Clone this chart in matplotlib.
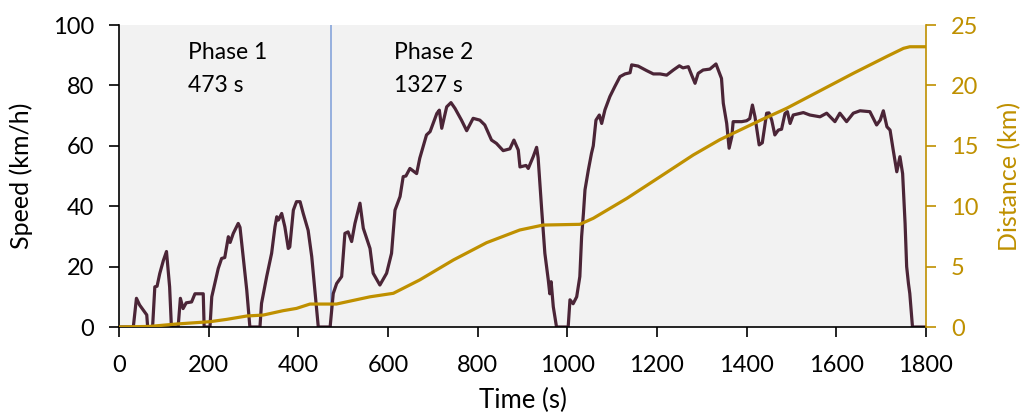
import matplotlib.pyplot as plt

plt.rcParams['font.family'] = ['Lato', 'DejaVu Sans']

# speed trace (time in s, speed in km/h)
time_s = [0, 32, 39, 46, 62, 64, 75, 80, 85, 91, 99, 106, 113, 117, 132, 137, 143, 150, 162, 169.5,
          188, 190, 203, 207, 214, 221.5, 229, 236, 244, 248, 255, 266, 270, 277, 285, 292, 314.5,
          318, 329.5, 340.5, 348, 352, 355.5, 363, 370, 377.7, 381, 389, 396, 404, 411, 422, 430,
          437, 444.6, 471, 478, 485.6, 496.7, 504, 511, 519, 526.4, 537.6, 545, 560, 567, 582, 597,
          608, 615.7, 627, 634, 640, 649, 664, 671, 686, 694, 709, 714.6, 720, 731, 740.6, 749.5,
          764, 775.6, 790, 805, 816, 831, 842, 857, 872, 881, 890.7, 894.5, 908, 913, 924, 931.6,
          935, 943, 950, 957.6, 961, 964, 968.8, 976, 1002, 1006, 1013, 1021, 1028, 1032, 1036,
          1039.5, 1047, 1054, 1058, 1064, 1071.5, 1076.7, 1084, 1095, 1106, 1117.6, 1128.7, 1140,
          1143.6, 1158, 1177, 1192, 1207, 1221.7, 1236.6, 1250, 1258, 1270, 1277.5, 1285, 1292,
          1303, 1318, 1331.7, 1344, 1348, 1355.6, 1361, 1367, 1370, 1389, 1400, 1407, 1413, 1418.7,
          1428, 1435, 1444.7, 1450, 1456, 1463, 1470.7, 1478, 1485.6, 1491, 1497, 1504, 1526.6,
          1541, 1563.7, 1578.6, 1597, 1608, 1623, 1638, 1653, 1675, 1690, 1698, 1705, 1713, 1720,
          1727, 1735, 1742, 1748, 1753.5, 1757, 1761, 1764, 1770, 1800]
speed_kmh = [0, 0, 9.5, 7.3, 4, 0, 0, 13.3, 13.5, 17.7, 22, 25, 13.3, 0, 0, 9.5, 6.1, 8, 8.3, 11,
             11, 0, 0, 10, 14.5, 19.4, 22.7, 23, 29.9, 28, 31, 34.3, 33, 23.3, 12.3, 0, 0,
             7.8, 16.7, 24.4, 33.2, 36.5, 35.4, 37.6, 33.2, 26, 26.5, 38.7, 41.5, 41.5, 37.6, 32, 23.3,
             12.3, 0, 0, 11.1, 14.4, 16.7, 31, 31.5, 28.3, 34.3, 41, 32.7, 26, 17.8, 13.9, 17.8,
             24.4, 38.7, 43.2, 49.8, 50, 52.5, 50.8, 55.9, 63.6, 64.7, 70.7, 71.8, 65.8, 72.9, 74.3, 72.4,
             68.5, 65, 69.1, 68.5, 66.9, 61.9, 60.8, 58.4, 59, 61.9, 58.6, 53, 53.5, 52.5, 56.4, 59.5,
             56, 38.7, 24.4, 15.6, 11, 15, 6.7, 0, 0, 9, 7.7, 10, 16.7, 30, 37.6,
             45.4, 52, 57.5, 60, 68.5, 70.2, 67.4, 71.9, 76.3, 79.6, 82.9, 83.8, 84.2,
             86.8, 86.4, 84.9, 83.8, 83.8, 83.4, 85.1, 86.5, 85.8, 86.2, 83.4, 80.7, 84,
             85.1, 85.4, 87.1, 82.3, 74.1, 67.4, 59.2, 63, 68, 68, 68.3, 69, 73.5, 69.6,
             60.3, 61, 70.8, 70.9, 68.5, 63.6, 65.2, 65.5, 70.7, 71.3, 67.4, 70.2, 71,
             70.2, 69.6, 70.8, 68, 70.8, 68, 70.8, 71.6, 71.3, 66.9, 68.5, 71.6, 66.3, 65.2,
             58.6, 51.4, 56.4, 50.8, 34.3, 20, 14.4, 11.1, 0, 0]

# cumulative distance (km)
dist_time_s = [0, 69, 129, 203, 240, 285, 322, 366, 396, 426, 485, 560, 612, 671, 746, 820, 894,
               946, 1028, 1058, 1133, 1207, 1281, 1340, 1430, 1489, 1638, 1713, 1750, 1764, 1800]
distance_km = [0, 0.05, 0.25, 0.44, 0.63, 0.91, 0.99, 1.35, 1.54, 1.9, 1.9, 2.5, 2.79, 3.9, 5.55,
               6.98, 8.03, 8.44, 8.5, 9.0, 10.65, 12.44, 14.24, 15.5, 17.1, 18.1, 21.0, 22.4,
               23.07, 23.2, 23.2]

phase_split = 473
phase_labels = [('Phase 1', '473 s', 154), ('Phase 2', '1327 s', 613)]

speed_col = '#4b2537'
dist_col = '#bf9000'

fig = plt.figure(figsize=(10.22, 4.12), dpi=100)
ax = fig.add_axes([0.1164, 0.2063, 0.7896, 0.733])
ax.set_facecolor('#f2f2f2')

ax.axvline(phase_split, color='#8faadc', lw=1.3, zorder=1)
ax.plot(time_s, speed_kmh, color=speed_col, lw=2.3, zorder=2)

for name, dur, tx in phase_labels:
    ax.text(tx, 91, name, fontsize=16.5, va='center', ha='left')
    ax.text(tx, 80, dur, fontsize=16.5, va='center', ha='left')

ax.set_xlim(0, 1800)
ax.set_ylim(0, 100)
ax.set_xticks(range(0, 1801, 200))
ax.set_yticks(range(0, 101, 20))
ax.set_xlabel('Time (s)', fontsize=18.5, labelpad=9)
ax.set_ylabel('Speed (km/h)', fontsize=18, labelpad=14)
ax.tick_params(labelsize=17, length=7, width=1.2, direction='out', pad=11)
ax.tick_params(axis='x', pad=13)
for s in ['top', 'right']:
    ax.spines[s].set_visible(False)
for s in ['left', 'bottom']:
    ax.spines[s].set_color('black')
    ax.spines[s].set_linewidth(1.2)

ax2 = ax.twinx()
ax2.plot(dist_time_s, distance_km, color=dist_col, lw=2.3, zorder=3)
ax2.set_ylim(0, 25)
ax2.set_yticks(range(0, 26, 5))
ax2.set_ylabel('Distance (km)', fontsize=18, color=dist_col, labelpad=14)
ax2.tick_params(labelsize=17, length=7, width=1.2, colors=dist_col, pad=11)
for s in ['top', 'left', 'bottom']:
    ax2.spines[s].set_visible(False)
ax2.spines['right'].set_color(dist_col)
ax2.spines['right'].set_linewidth(1.2)

fig.savefig('out.png', dpi=100)
